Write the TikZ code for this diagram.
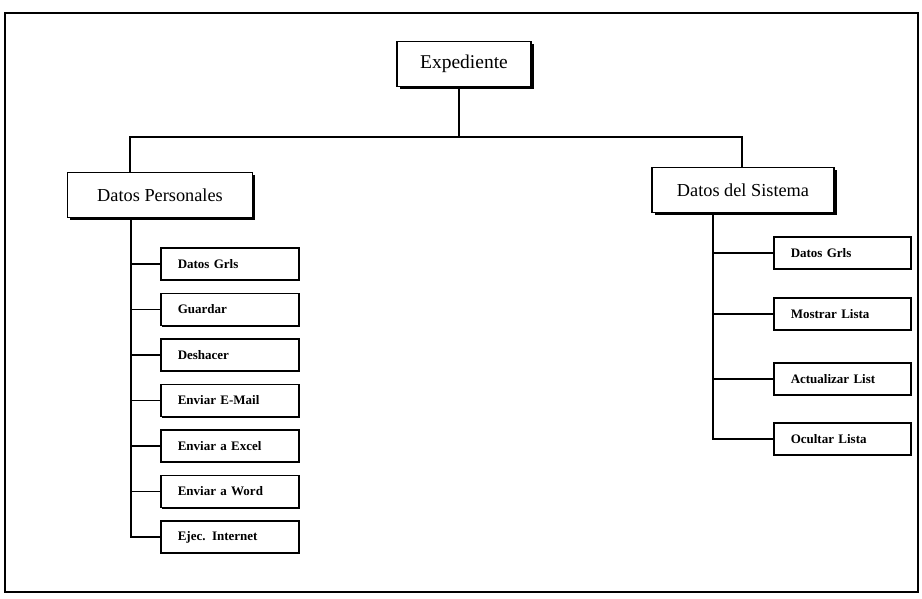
\documentclass[tikz,border=0pt]{standalone}
\usepackage{fontspec}
\setmainfont{Liberation Serif}
\usetikzlibrary{shadows}
\begin{document}
\begin{tikzpicture}[x=1pt,y=-1pt,
  frame/.style={line width=1.8pt},
  link/.style={line width=1.8pt},
  solid shadow/.style={drop shadow={shadow xshift=2.6pt,shadow yshift=-2.6pt,fill=black,opacity=1}},
  mainbox/.style={draw,line width=1.6pt,fill=white,solid shadow,
    minimum height=45pt,inner sep=0pt,font=\fontsize{18.3}{21}\selectfont},
  leafbox/.style={draw,line width=1.5pt,fill=white,
    drop shadow={shadow xshift=1.3pt,shadow yshift=-1.3pt,fill=black,opacity=1},
    anchor=west,minimum height=32pt,inner xsep=17pt,inner ysep=0pt,
    text width=104pt,align=left,font=\bfseries\fontsize{13}{15}\selectfont}]
\useasboundingbox (0,0) rectangle (922,598);
\fill[white] (0,0) rectangle (922,598);

% outer frame
\draw[frame] (5,13) rectangle (918,592);

% top level
\node[mainbox,minimum width=134pt,font=\fontsize{19.5}{22}\selectfont] (exp) at (464,64) {Expediente};
\node[mainbox,minimum width=185pt] (dp) at (160,195) {Datos Personales};
\node[mainbox,minimum width=182pt] (ds) at (743,190) {Datos del Sistema};

% bus from the root to both branches
\coordinate (busL) at (130,137);
\coordinate (busM) at (459,137);
\coordinate (busR) at (742,137);
\draw[link] (exp.south -| busM) -- (busM);
\draw[link] (dp.north -| busL) -- (busL) -- (busR) -- (ds.north -| busR);

% personal data leaves
\node[leafbox] (p1) at (160,264) {Datos Grls};
\node[leafbox] (p2) at (160,309.5) {Guardar};
\node[leafbox] (p3) at (160,355) {Deshacer};
\node[leafbox] (p4) at (160,400.5) {Enviar E-Mail};
\node[leafbox] (p5) at (160,446) {Enviar a Excel};
\node[leafbox] (p6) at (160,491.5) {Enviar a Word};
\node[leafbox] (p7) at (160,537) {Ejec. Internet};

\coordinate (trunkL) at (131,0);
\draw[link] (dp.south -| trunkL) -- (trunkL |- p7.west) -- (p7.west);
\foreach \n in {p1,p2,p3,p4,p5,p6}
  \draw[link] (trunkL |- \n.west) -- (\n.west);

% system data leaves
\node[leafbox,text width=103pt] (s1) at (773,253) {Datos Grls};
\node[leafbox,text width=103pt] (s2) at (773,314) {Mostrar Lista};
\node[leafbox,text width=103pt] (s3) at (773,379) {Actualizar List};
\node[leafbox,text width=103pt] (s4) at (773,439) {Ocultar Lista};

\coordinate (trunkR) at (713,0);
\draw[link] (ds.south -| trunkR) -- (trunkR |- s4.west) -- (s4.west);
\foreach \n in {s1,s2,s3}
  \draw[link] (trunkR |- \n.west) -- (\n.west);
\end{tikzpicture}
\end{document}
